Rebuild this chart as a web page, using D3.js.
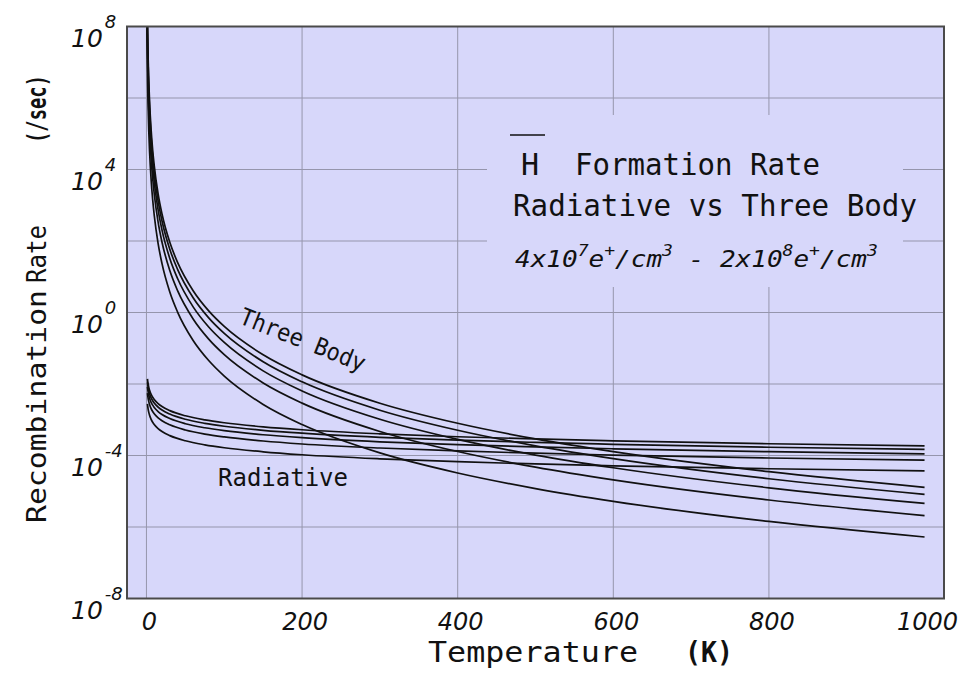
<!DOCTYPE html>
<html>
<head>
<meta charset="utf-8">
<script src="https://cdn.jsdelivr.net/npm/d3@7"></script>
<style>
  html, body { margin: 0; padding: 0; background: #ffffff; }
  svg { display: block; }
</style>
</head>
<body>
<svg id="chart" width="977" height="674"></svg>
<script>
// Temperatures (K) at which each curve is sampled
const threeBodyTemps = [0.7, 1, 1.5, 2, 3, 4, 6, 8, 10, 15, 20, 30, 40, 60, 80, 100, 150, 200, 300, 400, 500, 600, 800, 1000];
const radiativeTemps = [1.3, 1.6, 2, 3, 4, 6, 8, 10, 15, 20, 30, 50, 75, 100, 150, 200, 300, 400, 500, 600, 800, 1000];

// Three-body recombination rate (/sec), one series per positron density
const threeBody2e8 = [2.03e9, 4.07e8, 6.58e7, 1.80e7, 2.90e6, 7.96e5, 1.28e5, 3.52e4, 1.29e4, 2.08e3, 569, 91.8, 25.2, 4.06, 1.11, 0.407, 0.0658, 0.0180, 2.90e-3, 7.96e-4, 2.91e-4, 1.28e-4, 3.52e-5, 1.29e-5];
const threeBody16e7 = [1.29e9, 2.60e8, 4.20e7, 1.15e7, 1.85e6, 5.08e5, 8.18e4, 2.24e4, 8.22e3, 1.33e3, 363, 58.6, 16.1, 2.59, 0.710, 0.260, 0.0420, 0.0115, 1.85e-3, 5.08e-4, 1.86e-4, 8.18e-5, 2.24e-5, 8.22e-6];
const threeBody12e7 = [7.19e8, 1.45e8, 2.33e7, 6.38e6, 1.03e6, 2.82e5, 4.55e4, 1.25e4, 4.57e3, 738, 202, 32.6, 8.93, 1.44, 0.394, 0.145, 0.0233, 6.38e-3, 1.03e-3, 2.82e-4, 1.03e-4, 4.55e-5, 1.25e-5, 4.57e-6];
const threeBody8e7 = [3.29e8, 6.61e7, 1.07e7, 2.92e6, 4.71e5, 1.29e5, 2.08e4, 5.70e3, 2.09e3, 337, 92.3, 14.9, 4.08, 0.658, 0.180, 0.0661, 0.0107, 2.92e-3, 4.71e-4, 1.29e-4, 4.72e-5, 2.08e-5, 5.70e-6, 2.09e-6];
const threeBody4e7 = [8.26e7, 1.66e7, 2.68e6, 7.33e5, 1.18e5, 3.24e4, 5.22e3, 1.43e3, 525, 84.7, 23.2, 3.74, 1.03, 0.165, 0.0453, 0.0166, 2.68e-3, 7.33e-4, 1.18e-4, 3.24e-5, 1.19e-5, 5.22e-6, 1.43e-6, 5.25e-7];

// Radiative recombination rate (/sec), same densities
const radiative2e8 = [1.39e-2, 1.21e-2, 1.05e-2, 8.05e-3, 6.68e-3, 5.13e-3, 4.26e-3, 3.68e-3, 2.83e-3, 2.34e-3, 1.80e-3, 1.29e-3, 9.93e-4, 8.24e-4, 6.34e-4, 5.25e-4, 4.04e-4, 3.35e-4, 2.90e-4, 2.57e-4, 2.13e-4, 1.85e-4];
const radiative16e7 = [1.11e-2, 9.68e-3, 8.38e-3, 6.44e-3, 5.34e-3, 4.10e-3, 3.41e-3, 2.94e-3, 2.26e-3, 1.87e-3, 1.44e-3, 1.03e-3, 7.94e-4, 6.59e-4, 5.07e-4, 4.20e-4, 3.23e-4, 2.68e-4, 2.32e-4, 2.06e-4, 1.70e-4, 1.48e-4];
const radiative12e7 = [8.34e-3, 7.26e-3, 6.28e-3, 4.83e-3, 4.01e-3, 3.08e-3, 2.56e-3, 2.21e-3, 1.70e-3, 1.40e-3, 1.08e-3, 7.74e-4, 5.96e-4, 4.94e-4, 3.80e-4, 3.15e-4, 2.42e-4, 2.01e-4, 1.74e-4, 1.54e-4, 1.28e-4, 1.11e-4];
const radiative8e7 = [5.56e-3, 4.84e-3, 4.19e-3, 3.22e-3, 2.67e-3, 2.05e-3, 1.70e-3, 1.47e-3, 1.13e-3, 9.36e-4, 7.20e-4, 5.16e-4, 3.97e-4, 3.30e-4, 2.54e-4, 2.10e-4, 1.62e-4, 1.34e-4, 1.16e-4, 1.03e-4, 8.52e-5, 7.40e-5];
const radiative4e7 = [2.78e-3, 2.42e-3, 2.09e-3, 1.61e-3, 1.34e-3, 1.03e-3, 8.52e-4, 7.36e-4, 5.66e-4, 4.68e-4, 3.60e-4, 2.58e-4, 1.99e-4, 1.65e-4, 1.27e-4, 1.05e-4, 8.08e-5, 6.70e-5, 5.80e-5, 5.14e-5, 4.26e-5, 3.70e-5];

// Axis ticks
const xTickValues = [0, 200, 400, 600, 800, 1000];
const xGridValues = [0, 200, 400, 600, 800];
const yLabelExponents = [8, 4, 0, -4, -8];
const yGridExponents = [6, 4, 2, 0, -2, -4, -6];

const svg = d3.select("#chart");
const plotLeft = 127, plotRight = 944, plotTop = 26.5, plotBottom = 598.5;

const x = d3.scaleLinear().domain([-25, 1025]).range([plotLeft, plotRight]);
const y = d3.scaleLog().domain([1e-8, 1e8]).range([plotBottom, plotTop]);

const bg = "#d7d7fa";
const gridColor = "#9595ac";

// plot background
svg.append("rect")
  .attr("x", plotLeft).attr("y", plotTop)
  .attr("width", plotRight - plotLeft).attr("height", plotBottom - plotTop)
  .attr("fill", bg);

// grid
const grid = svg.append("g");
grid.selectAll("line.v").data(xGridValues).join("line")
  .attr("x1", d => x(d)).attr("x2", d => x(d))
  .attr("y1", plotTop).attr("y2", plotBottom)
  .attr("stroke", gridColor).attr("stroke-width", 1);
grid.selectAll("line.h").data(yGridExponents).join("line")
  .attr("x1", plotLeft).attr("x2", plotRight)
  .attr("y1", d => y(Math.pow(10, d))).attr("y2", d => y(Math.pow(10, d)))
  .attr("stroke", gridColor).attr("stroke-width", 1);

// panel behind the title block hides the grid there
svg.append("rect")
  .attr("x", 487).attr("y", 115).attr("width", 416).attr("height", 172)
  .attr("fill", bg);

// curves
svg.append("clipPath").attr("id", "plotClip")
  .append("rect").attr("x", plotLeft).attr("y", plotTop)
  .attr("width", plotRight - plotLeft).attr("height", plotBottom - plotTop);

const line = d3.line()
  .x(d => x(d[0]))
  .y(d => y(d[1]))
  .curve(d3.curveMonotoneX);

const threeBodySeries = [threeBody2e8, threeBody16e7, threeBody12e7, threeBody8e7, threeBody4e7];
const radiativeSeries = [radiative2e8, radiative16e7, radiative12e7, radiative8e7, radiative4e7];

const curves = svg.append("g").attr("clip-path", "url(#plotClip)");
threeBodySeries.forEach(s => {
  curves.append("path")
    .attr("d", line(threeBodyTemps.map((t, i) => [t, s[i]])))
    .attr("fill", "none").attr("stroke", "#111").attr("stroke-width", 1.7);
});
radiativeSeries.forEach(s => {
  curves.append("path")
    .attr("d", line(radiativeTemps.map((t, i) => [t, s[i]])))
    .attr("fill", "none").attr("stroke", "#111").attr("stroke-width", 1.7);
});

// frame
svg.append("rect")
  .attr("x", plotLeft).attr("y", plotTop)
  .attr("width", plotRight - plotLeft).attr("height", plotBottom - plotTop)
  .attr("fill", "none").attr("stroke", "#4a4a4a").attr("stroke-width", 2);

// x tick labels
const tickFont = "'DejaVu Sans', sans-serif";
svg.append("g").selectAll("text").data(xTickValues).join("text")
  .attr("x", d => x(d) + 3).attr("y", 630)
  .attr("text-anchor", "middle")
  .attr("font-family", tickFont).attr("font-style", "italic")
  .attr("font-size", 24).attr("fill", "#111")
  .text(d => d);

// y tick labels (powers of ten)
const yl = svg.append("g");
yLabelExponents.forEach(e => {
  const gy = y(Math.pow(10, e));
  const t = yl.append("text")
    .attr("x", 71).attr("y", gy + 20)
    .attr("font-family", tickFont).attr("font-style", "italic")
    .attr("font-size", 25).attr("fill", "#111");
  t.append("tspan").text("10");
  t.append("tspan").attr("dx", 2).attr("dy", -19).attr("font-size", 18)
    .text(e < 0 ? "-" + (-e) : String(e));
});

const mono = "'DejaVu Sans Mono', monospace";

// axis titles
svg.append("text")
  .attr("x", 428).attr("y", 662)
  .attr("font-family", mono).attr("font-size", 28).attr("fill", "#111")
  .attr("textLength", 210).attr("lengthAdjust", "spacingAndGlyphs")
  .text("Temperature");
svg.append("text")
  .attr("x", 685).attr("y", 662)
  .attr("font-family", mono).attr("font-weight", "bold").attr("font-size", 28).attr("fill", "#111")
  .attr("textLength", 48).attr("lengthAdjust", "spacingAndGlyphs")
  .text("(K)");

svg.append("text")
  .attr("transform", "translate(46,523) rotate(-90)")
  .attr("font-family", mono).attr("font-size", 27).attr("fill", "#111")
  .attr("textLength", 233).attr("lengthAdjust", "spacingAndGlyphs")
  .text("Recombination");
svg.append("text")
  .attr("transform", "translate(46,283) rotate(-90)")
  .attr("font-family", mono).attr("font-size", 27).attr("fill", "#111")
  .attr("textLength", 58).attr("lengthAdjust", "spacingAndGlyphs")
  .text("Rate");
svg.append("text")
  .attr("transform", "translate(46,143) rotate(-90)")
  .attr("font-family", mono).attr("font-weight", "bold").attr("font-size", 27).attr("fill", "#111")
  .attr("textLength", 68).attr("lengthAdjust", "spacingAndGlyphs")
  .text("(/sec)");

// title block
svg.append("line")
  .attr("x1", 510).attr("x2", 545).attr("y1", 135).attr("y2", 135)
  .attr("stroke", "#111").attr("stroke-width", 1.6);
svg.append("text")
  .attr("x", 521).attr("y", 175)
  .attr("font-family", mono).attr("font-size", 30).attr("fill", "#111")
  .text("H");
svg.append("text")
  .attr("x", 575).attr("y", 175)
  .attr("font-family", mono).attr("font-size", 30).attr("fill", "#111")
  .attr("textLength", 245).attr("lengthAdjust", "spacingAndGlyphs")
  .text("Formation Rate");
svg.append("text")
  .attr("x", 513).attr("y", 216)
  .attr("font-family", mono).attr("font-size", 30).attr("fill", "#111")
  .attr("textLength", 404).attr("lengthAdjust", "spacingAndGlyphs")
  .text("Radiative vs Three Body");

// density range with superscripts
const dens = svg.append("text")
  .attr("font-family", mono).attr("font-style", "italic")
  .attr("font-size", 23).attr("fill", "#111");
const parts = [
  ["4x10", 0], ["7", 1], ["e", 0], ["+", 1], ["/cm", 0], ["3", 1],
  [" - 2x10", 0], ["8", 1], ["e", 0], ["+", 1], ["/cm", 0], ["3", 1]
];
let raised = false;
parts.forEach(([txt, sup]) => {
  const ts = dens.append("tspan").text(txt);
  if (sup && !raised) { ts.attr("dy", -11).attr("font-size", 16); raised = true; }
  else if (sup) { ts.attr("font-size", 16); }
  else if (raised) { ts.attr("dy", 11); raised = false; }
});
{
  const w = dens.node().getBBox().width;
  dens.attr("transform", `translate(515,267) scale(${363 / w},1)`);
}

// curve family labels
svg.append("text")
  .attr("transform", "translate(238,323) rotate(21.6)")
  .attr("font-family", mono).attr("font-size", 24).attr("fill", "#111")
  .attr("textLength", 133).attr("lengthAdjust", "spacingAndGlyphs")
  .text("Three Body");
svg.append("text")
  .attr("x", 218).attr("y", 486)
  .attr("font-family", mono).attr("font-size", 25).attr("fill", "#111")
  .attr("textLength", 130).attr("lengthAdjust", "spacingAndGlyphs")
  .text("Radiative");
</script>
</body>
</html>
